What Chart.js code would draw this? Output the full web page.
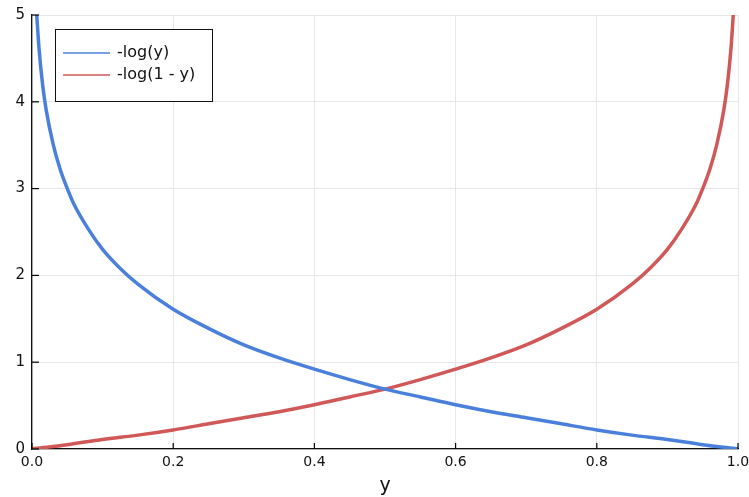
<!DOCTYPE html>
<html>
<head>
<meta charset="utf-8">
<script src="https://cdn.jsdelivr.net/npm/chart.js@4"></script>
<style>
  html, body { margin: 0; padding: 0; background: #fff; }
  #wrap { width: 749px; height: 497px; }
</style>
</head>
<body>
<div id="wrap"><canvas id="lossChart" width="749" height="497"></canvas></div>
<script>
// values
const blueX = [0.0067, 0.01, 0.015, 0.02, 0.03, 0.04, 0.05, 0.06, 0.08, 0.1, 0.125, 0.15, 0.2, 0.25, 0.3, 0.35, 0.4, 0.45, 0.5, 0.55, 0.6, 0.65, 0.7, 0.75, 0.8, 0.85, 0.9, 0.95, 1.0];
const blueY = [5.0, 4.61, 4.2, 3.91, 3.51, 3.22, 3.0, 2.81, 2.53, 2.3, 2.08, 1.9, 1.61, 1.39, 1.2, 1.05, 0.92, 0.8, 0.69, 0.6, 0.51, 0.43, 0.36, 0.29, 0.22, 0.16, 0.11, 0.05, 0];
const redX = [0, 0.05, 0.1, 0.15, 0.2, 0.25, 0.3, 0.35, 0.4, 0.45, 0.5, 0.55, 0.6, 0.65, 0.7, 0.75, 0.8, 0.85, 0.875, 0.9, 0.92, 0.94, 0.95, 0.96, 0.97, 0.98, 0.985, 0.99, 0.9933];
const redY = [0, 0.05, 0.11, 0.16, 0.22, 0.29, 0.36, 0.43, 0.51, 0.6, 0.69, 0.8, 0.92, 1.05, 1.2, 1.39, 1.61, 1.9, 2.08, 2.3, 2.53, 2.81, 3.0, 3.22, 3.51, 3.91, 4.2, 4.61, 5.0];
const seriesNames = ['-log(y)', '-log(1 - y)'];
const seriesColors = ['#4a80dc', '#d05858'];
const xTicks = [0, 0.2, 0.4, 0.6, 0.8, 1.0];
const yTicks = [0, 1, 2, 3, 4, 5];

const toPoints = (xs, ys) => xs.map((x, i) => ({ x: x, y: ys[i] }));

// ticks drawn inward + boxed legend inside the plot
const axisExtras = {
    id: 'axisExtras',
    afterDraw(chart) {
        const ctx = chart.ctx;
        const xs = chart.scales.x, ys = chart.scales.y;
        const area = chart.chartArea;
        ctx.save();
        ctx.strokeStyle = '#000';
        ctx.lineWidth = 1.2;
        xTicks.forEach(v => {
            const px = xs.getPixelForValue(v);
            ctx.beginPath();
            ctx.moveTo(px, area.bottom);
            ctx.lineTo(px, area.bottom - 6);
            ctx.stroke();
        });
        yTicks.forEach(v => {
            const py = ys.getPixelForValue(v);
            ctx.beginPath();
            ctx.moveTo(area.left, py);
            ctx.lineTo(area.left + 7, py);
            ctx.stroke();
        });

        // legend box
        const bx = 55.5, by = 29.5, bw = 157, bh = 72;
        ctx.fillStyle = '#fff';
        ctx.fillRect(bx, by, bw, bh);
        ctx.lineWidth = 1;
        ctx.strokeStyle = '#111';
        ctx.strokeRect(bx, by, bw, bh);
        ctx.font = '16px "DejaVu Sans"';
        ctx.textBaseline = 'middle';
        ctx.fillStyle = '#111';
        chart.data.datasets.forEach((ds, i) => {
            const ly = 53 + i * 22;
            ctx.strokeStyle = ds.borderColor;
            ctx.lineWidth = 1.6;
            ctx.beginPath();
            ctx.moveTo(63, ly);
            ctx.lineTo(110, ly);
            ctx.stroke();
            ctx.fillText(ds.label, 117, ly);
        });
        ctx.restore();
    }
};

new Chart(document.getElementById('lossChart'), {
    type: 'line',
    data: {
        datasets: [{
            label: seriesNames[0],
            data: toPoints(blueX, blueY),
            borderColor: seriesColors[0],
            borderWidth: 3.5,
            pointRadius: 0,
            cubicInterpolationMode: 'monotone'
        }, {
            label: seriesNames[1],
            data: toPoints(redX, redY),
            borderColor: seriesColors[1],
            borderWidth: 3.5,
            pointRadius: 0,
            cubicInterpolationMode: 'monotone'
        }]
    },
    options: {
        responsive: false,
        animation: false,
        layout: { padding: { top: 15, right: 11, left: 0, bottom: 0 } },
        plugins: { legend: { display: false }, tooltip: { enabled: false } },
        scales: {
            x: {
                type: 'linear',
                min: 0,
                max: 1,
                afterBuildTicks: s => { s.ticks = xTicks.map(v => ({ value: v })); },
                ticks: {
                    callback: v => v.toFixed(1),
                    color: '#111',
                    font: { family: 'DejaVu Sans', size: 14 },
                    padding: 5,
                    maxRotation: 0
                },
                grid: { color: '#e6e6e6', lineWidth: 1, drawTicks: false },
                border: { color: '#111', width: 1.3 },
                title: {
                    display: true,
                    text: 'y',
                    color: '#111',
                    font: { family: 'DejaVu Sans', size: 19 },
                    padding: { top: 3, bottom: 0 }
                },
                afterFit: s => { s.height = 48; s.paddingRight = 0; s.paddingLeft = 0; }
            },
            y: {
                min: 0,
                max: 5,
                afterBuildTicks: s => { s.ticks = yTicks.map(v => ({ value: v })); },
                ticks: {
                    color: '#111',
                    font: { family: 'DejaVu Sans', size: 15 },
                    padding: 7
                },
                grid: { color: '#e6e6e6', lineWidth: 1, drawTicks: false },
                border: { color: '#111', width: 1.3 },
                afterFit: s => { s.width = 32; s.paddingTop = 0; s.paddingBottom = 0; }
            }
        }
    },
    plugins: [axisExtras]
});
</script>
</body>
</html>
